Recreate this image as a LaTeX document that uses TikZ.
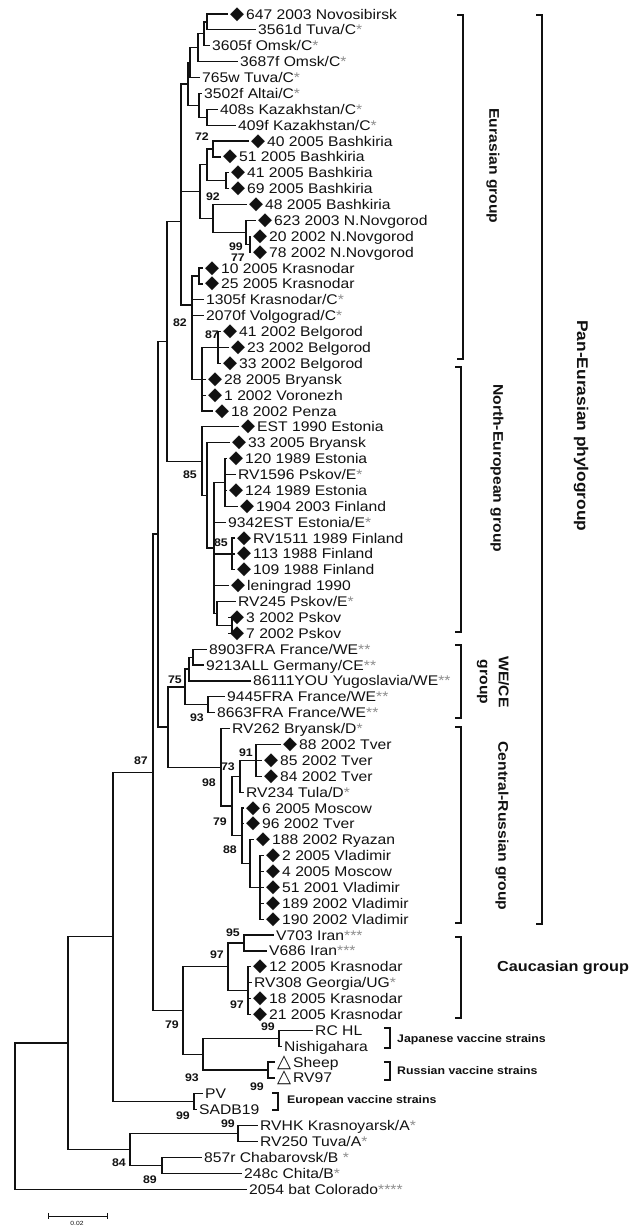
\documentclass[tikz,border=0pt]{standalone}
\usepackage{fontspec}
\setmainfont{Liberation Sans}[FakeStretch=1.12]
\newfontfamily\symf{DejaVu Sans}[Scale=1.3]
\usepackage{xcolor}
\definecolor{Ink}{HTML}{111111}
\definecolor{Star}{HTML}{8C8C8C}
\newcommand\dm{{\symf ◆}\hspace{2pt}}
\newcommand\tri{{\symf △}\hspace{2pt}}
\newcommand\mk[1]{\textcolor{Star}{#1}}

\begin{document}
\begin{tikzpicture}[x=1pt,y=-15.88pt,
  br/.style={Ink,line width=1.2pt},
  lf/.style={anchor=west,inner xsep=2pt,inner ysep=0pt,text height=10pt,text depth=0pt,text=Ink,font=\fontsize{14}{16}\selectfont},
  bs/.style={inner sep=0pt,text=Ink,font=\bfseries\fontsize{11}{12}\selectfont},
  brk/.style={Ink,line width=1.5pt},
  grp/.style={inner sep=0pt,rotate=-90,align=center,text=Ink,font=\bfseries\fontsize{14}{19}\selectfont},
  vac/.style={anchor=west,inner sep=0pt,text=Ink,font=\bfseries\fontsize{11}{13}\selectfont}]
\useasboundingbox (0,0.1184) rectangle (631,77.386);
% leaves, top to bottom
\node[lf] (t1) at (228,1) {\dm 647 2003 Novosibirsk};
\node[lf] (t2) at (256,2) {3561d Tuva/C\mk{*}};
\node[lf] (t3) at (210,3) {3605f Omsk/C\mk{*}};
\node[lf] (t4) at (238,4) {3687f Omsk/C\mk{*}};
\node[lf] (t5) at (200,5) {765w Tuva/C\mk{*}};
\node[lf] (t6) at (202,6) {3502f Altai/C\mk{*}};
\node[lf] (t7) at (218,7) {408s Kazakhstan/C\mk{*}};
\node[lf] (t8) at (236,8) {409f Kazakhstan/C\mk{*}};
\node[lf] (t9) at (249,9) {\dm 40 2005 Bashkiria};
\node[lf] (t10) at (221,10) {\dm 51 2005 Bashkiria};
\node[lf] (t11) at (229,11) {\dm 41 2005 Bashkiria};
\node[lf] (t12) at (229,12) {\dm 69 2005 Bashkiria};
\node[lf] (t13) at (247,13) {\dm 48 2005 Bashkiria};
\node[lf] (t14) at (256,14) {\dm 623 2003 N.Novgorod};
\node[lf] (t15) at (251,15) {\dm 20 2002 N.Novgorod};
\node[lf] (t16) at (251,16) {\dm 78 2002 N.Novgorod};
\node[lf] (t17) at (203,17) {\dm 10 2005 Krasnodar};
\node[lf] (t18) at (203,18) {\dm 25 2005 Krasnodar};
\node[lf] (t19) at (204,19) {1305f Krasnodar/C\mk{*}};
\node[lf] (t20) at (204,20) {2070f Volgograd/C\mk{*}};
\node[lf] (t21) at (221,21) {\dm 41 2002 Belgorod};
\node[lf] (t22) at (229,22) {\dm 23 2002 Belgorod};
\node[lf] (t23) at (221,23) {\dm 33 2002 Belgorod};
\node[lf] (t24) at (206,24) {\dm 28 2005 Bryansk};
\node[lf] (t25) at (206,25) {\dm 1 2002 Voronezh};
\node[lf] (t26) at (213,26) {\dm 18 2002 Penza};
\node[lf] (t27) at (239,27) {\dm EST 1990 Estonia};
\node[lf] (t28) at (230,28) {\dm 33 2005 Bryansk};
\node[lf] (t29) at (227,29) {\dm 120 1989 Estonia};
\node[lf] (t30) at (236,30) {RV1596 Pskov/E\mk{*}};
\node[lf] (t31) at (227,31) {\dm 124 1989 Estonia};
\node[lf] (t32) at (238,32) {\dm 1904 2003 Finland};
\node[lf] (t33) at (226,33) {9342EST Estonia/E\mk{*}};
\node[lf] (t34) at (235,34) {\dm RV1511 1989 Finland};
\node[lf] (t35) at (235,35) {\dm 113 1988 Finland};
\node[lf] (t36) at (235,36) {\dm 109 1988 Finland};
\node[lf] (t37) at (229,37) {\dm leningrad 1990};
\node[lf] (t38) at (236,38) {RV245 Pskov/E\mk{*}};
\node[lf] (t39) at (228,39) {\dm 3 2002 Pskov};
\node[lf] (t40) at (228,40) {\dm 7 2002 Pskov};
\node[lf] (t41) at (207,41) {8903FRA France/WE\mk{**}};
\node[lf] (t42) at (204,42) {9213ALL Germany/CE\mk{**}};
\node[lf] (t43) at (251,43) {86111YOU Yugoslavia/WE\mk{**}};
\node[lf] (t44) at (225,44) {9445FRA France/WE\mk{**}};
\node[lf] (t45) at (215,45) {8663FRA France/WE\mk{**}};
\node[lf] (t46) at (230,46) {RV262 Bryansk/D\mk{*}};
\node[lf] (t47) at (281,47) {\dm 88 2002 Tver};
\node[lf] (t48) at (262,48) {\dm 85 2002 Tver};
\node[lf] (t49) at (262,49) {\dm 84 2002 Tver};
\node[lf] (t50) at (244,50) {RV234 Tula/D\mk{*}};
\node[lf] (t51) at (244,51) {\dm 6 2005 Moscow};
\node[lf] (t52) at (244,52) {\dm 96 2002 Tver};
\node[lf] (t53) at (254,53) {\dm 188 2002 Ryazan};
\node[lf] (t54) at (264,54) {\dm 2 2005 Vladimir};
\node[lf] (t55) at (264,55) {\dm 4 2005 Moscow};
\node[lf] (t56) at (264,56) {\dm 51 2001 Vladimir};
\node[lf] (t57) at (264,57) {\dm 189 2002 Vladimir};
\node[lf] (t58) at (264,58) {\dm 190 2002 Vladimir};
\node[lf] (t59) at (274,59) {V703 Iran\mk{***}};
\node[lf] (t60) at (267,60) {V686 Iran\mk{***}};
\node[lf] (t61) at (251,61) {\dm 12 2005 Krasnodar};
\node[lf] (t62) at (252,62) {RV308 Georgia/UG\mk{*}};
\node[lf] (t63) at (251,63) {\dm 18 2005 Krasnodar};
\node[lf] (t64) at (251,64) {\dm 21 2005 Krasnodar};
\node[lf] (t65) at (313,65) {RC HL};
\node[lf] (t66) at (282,66) {Nishigahara};
\node[lf] (t67) at (275,67) {\tri Sheep};
\node[lf] (t68) at (275,68) {\tri RV97};
\node[lf] (t69) at (203,69) {PV};
\node[lf] (t70) at (197,70) {SADB19};
\node[lf] (t71) at (258,71) {RVHK Krasnoyarsk/A\mk{*}};
\node[lf] (t72) at (258,72) {RV250 Tuva/A\mk{*}};
\node[lf] (t73) at (202,73) {857r Chabarovsk/B \mk{*}};
\node[lf] (t74) at (242,74) {248c Chita/B\mk{*}};
\node[lf] (t75) at (247,75) {2054 bat Colorado\mk{****}};
% internal nodes
\coordinate (nA) at (207,1.5);
\coordinate (nB) at (204,2.25);
\coordinate (nC) at (198,3.125);
\coordinate (nD) at (190,4.0625);
\coordinate (nE) at (207,7.5);
\coordinate (nF) at (199,6.75);
\coordinate (nSib) at (188,5.406);
\coordinate (n72) at (213,9.5);
\coordinate (n41) at (226,11.5);
\coordinate (nBa) at (207,10.5);
\coordinate (n2078) at (250,15.5);
\coordinate (nNov) at (246,14.75);
\coordinate (n92) at (213,13.875);
\coordinate (nBash) at (200,12.19);
\coordinate (nEa) at (181,8.8);
\coordinate (nKr) at (199,17.5);
\coordinate (n87) at (218,22);
\coordinate (nBel) at (202,24);
\coordinate (n82) at (192,19.33);
\coordinate (nEur) at (181,14.07);
\coordinate (nEst) at (225,30.5);
\coordinate (nFin) at (232,35);
\coordinate (n37) at (232,39.5);
\coordinate (nPsk) at (217,38.75);
\coordinate (nN2) at (214,34.625);
\coordinate (nN1) at (207,31.31);
\coordinate (nNE) at (202,29.16);
\coordinate (nEN) at (167,21.6);
\coordinate (n9) at (193,41.5);
\coordinate (n75) at (189,42.25);
\coordinate (n93) at (208,44.5);
\coordinate (nWE) at (185,43.375);
\coordinate (n91) at (256,48);
\coordinate (n73) at (240,49);
\coordinate (nVl) at (260,56);
\coordinate (n88) at (250,54.5);
\coordinate (nMo) at (242,52.75);
\coordinate (n79) at (232,50.875);
\coordinate (nCR) at (221,48.44);
\coordinate (nWC) at (168,45.9);
\coordinate (nPan) at (158,33.75);
\coordinate (n95) at (244,59.5);
\coordinate (nGe) at (248,62.5);
\coordinate (nCau) at (228,61);
\coordinate (nJap) at (279,65.5);
\coordinate (nRus) at (268,67.5);
\coordinate (nVac) at (203,66.5);
\coordinate (nCV) at (183,63.75);
\coordinate (nMain) at (153,48.75);
\coordinate (nEu) at (194,69.5);
\coordinate (nA1) at (113,59.1);
\coordinate (nRV) at (238,71.5);
\coordinate (nChi) at (162,73.5);
\coordinate (n84) at (130,72.5);
\coordinate (nA2) at (68,65.8);
\coordinate (nRoot) at (15,70.4);
% branches
\draw[br] (nA) |- (t1.west) (nA) |- (t2.west);
\draw[br] (nB) |- (nA) (nB) |- (t3.west);
\draw[br] (nC) |- (nB) (nC) |- (t4.west);
\draw[br] (nD) |- (nC) (nD) |- (t5.west);
\draw[br] (nE) |- (t7.west) (nE) |- (t8.west);
\draw[br] (nF) |- (t6.west) (nF) |- (nE);
\draw[br] (nSib) |- (nD) (nSib) |- (nF);
\draw[br] (n72) |- (t9.west) (n72) |- (t10.west);
\draw[br] (n41) |- (t11.west) (n41) |- (t12.west);
\draw[br] (nBa) |- (n72) (nBa) |- (n41);
\draw[br] (n2078) |- (t15.west) (n2078) |- (t16.west);
\draw[br] (nNov) |- (t14.west) (nNov) |- (n2078);
\draw[br] (n92) |- (t13.west) (n92) |- (nNov);
\draw[br] (nBash) |- (nBa) (nBash) |- (n92);
\draw[br] (nEa) |- (nSib) (nEa) |- (nBash);
\draw[br] (nKr) |- (t17.west) (nKr) |- (t18.west);
\draw[br] (n87) |- (t21.west) (n87) |- (t22.west) (n87) |- (t23.west);
\draw[br] (nBel) |- (n87) (nBel) |- (t24.west) (nBel) |- (t25.west) (nBel) |- (t26.west);
\draw[br] (n82) |- (nKr) (n82) |- (t19.west) (n82) |- (t20.west) (n82) |- (nBel);
\draw[br] (nEur) |- (nEa) (nEur) |- (n82);
\draw[br] (nEst) |- (t29.west) (nEst) |- (t30.west) (nEst) |- (t31.west) (nEst) |- (t32.west);
\draw[br] (nFin) |- (t34.west) (nFin) |- (t35.west) (nFin) |- (t36.west);
\draw[br] (n37) |- (t39.west) (n37) |- (t40.west);
\draw[br] (nPsk) |- (t38.west) (nPsk) |- (n37);
\draw[br] (nN2) |- (nEst) (nN2) |- (t33.west) (nN2) |- (nFin) (nN2) |- (t37.west) (nN2) |- (nPsk);
\draw[br] (nN1) |- (t28.west) (nN1) |- (nN2);
\draw[br] (nNE) |- (t27.west) (nNE) |- (nN1);
\draw[br] (nEN) |- (nEur) (nEN) |- (nNE);
\draw[br] (n9) |- (t41.west) (n9) |- (t42.west);
\draw[br] (n75) |- (n9) (n75) |- (t43.west);
\draw[br] (n93) |- (t44.west) (n93) |- (t45.west);
\draw[br] (nWE) |- (n75) (nWE) |- (n93);
\draw[br] (n91) |- (t47.west) (n91) |- (t48.west) (n91) |- (t49.west);
\draw[br] (n73) |- (n91) (n73) |- (t50.west);
\draw[br] (nVl) |- (t54.west) (nVl) |- (t55.west) (nVl) |- (t56.west) (nVl) |- (t57.west) (nVl) |- (t58.west);
\draw[br] (n88) |- (t53.west) (n88) |- (nVl);
\draw[br] (nMo) |- (t51.west) (nMo) |- (t52.west) (nMo) |- (n88);
\draw[br] (n79) |- (n73) (n79) |- (nMo);
\draw[br] (nCR) |- (t46.west) (nCR) |- (n79);
\draw[br] (nWC) |- (nWE) (nWC) |- (nCR);
\draw[br] (nPan) |- (nEN) (nPan) |- (nWC);
\draw[br] (n95) |- (t59.west) (n95) |- (t60.west);
\draw[br] (nGe) |- (t61.west) (nGe) |- (t62.west) (nGe) |- (t63.west) (nGe) |- (t64.west);
\draw[br] (nCau) |- (n95) (nCau) |- (nGe);
\draw[br] (nJap) |- (t65.west) (nJap) |- (t66.west);
\draw[br] (nRus) |- (t67.west) (nRus) |- (t68.west);
\draw[br] (nVac) |- (nJap) (nVac) |- (nRus);
\draw[br] (nCV) |- (nCau) (nCV) |- (nVac);
\draw[br] (nMain) |- (nPan) (nMain) |- (nCV);
\draw[br] (nEu) |- (t69.west) (nEu) |- (t70.west);
\draw[br] (nA1) |- (nMain) (nA1) |- (nEu);
\draw[br] (nRV) |- (t71.west) (nRV) |- (t72.west);
\draw[br] (nChi) |- (t73.west) (nChi) |- (t74.west);
\draw[br] (n84) |- (nRV) (n84) |- (nChi);
\draw[br] (nA2) |- (nA1) (nA2) |- (n84);
\draw[br] (nRoot) |- (nA2) (nRoot) |- (t75.west);
% bootstrap values
\node[bs] (b1) at (202,8.74) {72};
\node[bs] (b2) at (213,12.52) {92};
\node[bs] (b3) at (236,15.67) {99};
\node[bs] (b4) at (238,16.37) {77};
\node[bs] (b5) at (180,20.46) {82};
\node[bs] (b6) at (212,21.2) {87};
\node[bs] (b7) at (190,30.03) {85};
\node[bs] (b8) at (221,34.31) {85};
\node[bs] (b9) at (175,42.94) {75};
\node[bs] (b10) at (197,45.33) {93};
\node[bs] (b11) at (246,47.54) {91};
\node[bs] (b12) at (228,48.42) {73};
\node[bs] (b13) at (209,49.43) {98};
\node[bs] (b14) at (220,51.88) {79};
\node[bs] (b15) at (230,53.65) {88};
\node[bs] (b16) at (141,48.04) {87};
\node[bs] (b17) at (233,58.87) {95};
\node[bs] (b18) at (217,60.26) {97};
\node[bs] (b19) at (237,63.41) {97};
\node[bs] (b20) at (268,64.79) {99};
\node[bs] (b21) at (172,64.67) {79};
\node[bs] (b22) at (192,68.0) {93};
\node[bs] (b23) at (257,68.57) {99};
\node[bs] (b24) at (183,70.4) {99};
\node[bs] (b25) at (228,70.9) {99};
\node[bs] (b26) at (119,73.35) {84};
\node[bs] (b27) at (150,74.42) {89};
% group brackets
\draw[brk] (457,1.063) -| (463,22.72) -- (457,22.72);
\draw[brk] (455,23.23) -| (461,39.92) -- (455,39.92);
\draw[brk] (455,40.74) -| (461,45.33) -- (455,45.33);
\draw[brk] (455,45.9) -| (461,58.24) -- (455,58.24);
\draw[brk] (536,1.063) -| (542,58.31) -- (536,58.31);
\draw[brk] (455,59.12) -| (461,64.22) -- (455,64.22);
\draw[brk] (384,64.85) -| (390,66.11) -- (384,66.11);
\draw[brk] (384,66.99) -| (390,68.13) -- (384,68.13);
\draw[brk] (272,68.95) -| (278,70.02) -- (272,70.02);
% group labels
\node[grp] (gEur) at (493,10.57) {Eurasian group};
\node[grp] (gNE) at (497,29.6) {North-European group};
\node[grp] (gWE) at (493,43.07) {WE/CE\\group};
\node[grp] (gCR) at (502,52.13) {Central-Russian group};
\node[grp,font=\bfseries\fontsize{15.5}{19}\selectfont] (gPan) at (581,26.94) {Pan-Eurasian phylogroup};
\node[anchor=west,inner sep=0pt,text=Ink,font=\bfseries\fontsize{14.5}{16}\selectfont] (gCau) at (497,61.07) {Caucasian group};
\node[vac] (gJap) at (397,65.61) {Japanese vaccine strains};
\node[vac] (gRus) at (397,67.56) {Russian vaccine strains};
\node[vac] (gEv) at (287,69.45) {European vaccine strains};
% scale bar
\coordinate (s0) at (48,76.69);
\coordinate (s1) at (107,76.69);
\draw[Ink,line width=0.8pt] (s0) -- (s1);
\draw[Ink,line width=0.8pt] ([yshift=3pt]s0) -- ([yshift=-3pt]s0) ([yshift=3pt]s1) -- ([yshift=-3pt]s1);
\node[inner sep=0pt,text=Ink,font=\fontsize{6}{7}\selectfont] (sl) at (77,77.16) {0.02};
\end{tikzpicture}
\end{document}
